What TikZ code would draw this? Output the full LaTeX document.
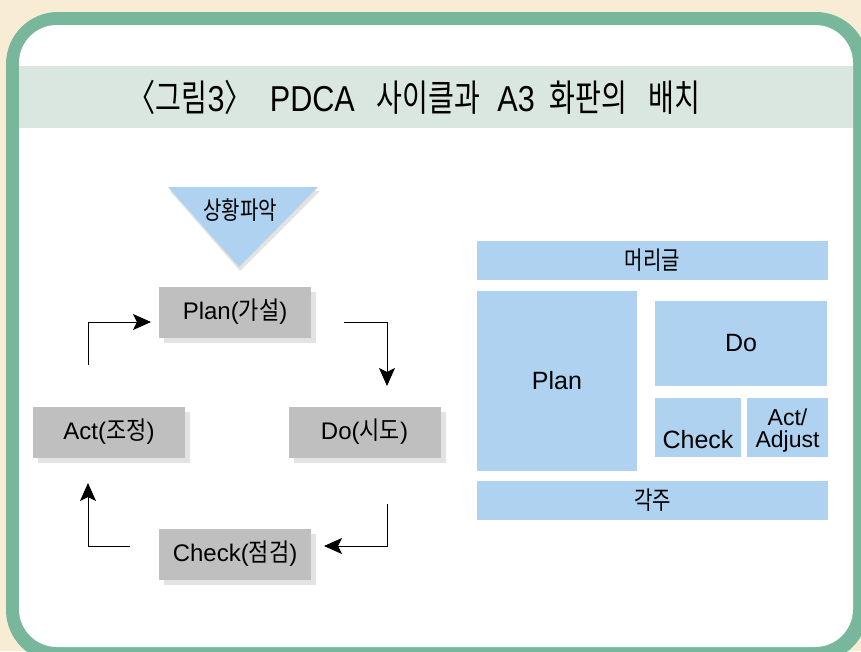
\documentclass[tikz,border=0pt]{standalone}
\usepackage{fontspec}
\setmainfont{Liberation Sans}
\newfontfamily\korfont[FakeStretch=0.88]{Noto Sans CJK KR}
\newfontfamily\korsmall[FakeStretch=0.8]{Noto Sans CJK KR}
\newfontfamily\titlekor[FakeStretch=0.76]{Noto Sans CJK KR}
\newfontfamily\titlelat[FakeStretch=0.85]{Liberation Sans}
\usetikzlibrary{arrows.meta,shadows}
\definecolor{bgbeige}{HTML}{F8ECD4}
\definecolor{framegreen}{HTML}{79B79D}
\definecolor{bandgreen}{HTML}{DAE7E0}
\definecolor{a3blue}{HTML}{AED2EF}
\definecolor{boxgray}{HTML}{BFBFBF}
\definecolor{shadowgray}{HTML}{E3E3E3}
\newcommand\Kb[1]{{\korfont\fontsize{25}{26}\selectfont #1}}
\newcommand\Ks[1]{{\korsmall\fontsize{25}{26}\selectfont #1}}
\newcommand\TK[1]{{\titlekor\fontsize{37}{38}\selectfont #1}}
\newcommand\TL[1]{{\titlelat\fontsize{36}{38}\selectfont #1}}
\begin{document}
\begin{tikzpicture}[x=1pt,y=-1pt,
  graybox/.style={fill=boxgray, inner sep=0pt, minimum width=152pt, minimum height=51pt,
    font=\fontsize{24}{26}\selectfont,
    general shadow={fill=shadowgray, shadow xshift=5pt, shadow yshift=-5pt}},
  a3box/.style={fill=a3blue, inner sep=0pt, font=\fontsize{25}{27}\selectfont},
  arr/.style={-{Stealth[length=18pt,width=16pt,inset=4pt]}, line width=1pt, black}]
\useasboundingbox (0,0) rectangle (861,651);
\fill[bgbeige] (0,0) rectangle (861,651);
\fill[framegreen, rounded corners=52pt] (6,12) rectangle (868,662);
\fill[white, rounded corners=38pt] (19,25) rectangle (853,647);
\fill[bandgreen] (19,66) rectangle (853,128);
\node[inner sep=0pt] (title) at (414,97.5) {\TK{〈그림}\TL{3}\TK{〉}\hspace{17pt}\TL{PDCA}\hspace{22pt}\TK{사이클과}\hspace{17pt}\TL{A3}\hspace{15pt}\TK{화판의}\hspace{21pt}\TK{배치}};
% situation triangle
\fill[shadowgray] (170,191) -- (320,191) -- (240,271) -- cycle;
\fill[a3blue] (168,187) -- (318,187) -- (239,267) -- cycle;
\node (sit) at (240,210) {\Ks{상황파악}};
% PDCA cycle boxes
\node[graybox] (plan) at (235,312) {Plan(\Kb{가설})};
\node[graybox] (act) at (109,432) {Act(\Kb{조정})};
\node[graybox] (do) at (364.5,432) {Do(\Kb{시도})};
\node[graybox] (check) at (235,554) {Check(\Kb{점검})};
% arrows
\coordinate (a1s) at (88,365);
\coordinate (a1t) at (151,322);
\coordinate (a2s) at (344,322);
\coordinate (a2t) at (387,386);
\coordinate (a3s) at (387,504);
\coordinate (a3t) at (324,546);
\coordinate (a4s) at (130,546);
\coordinate (a4t) at (88,483);
\draw[arr] (a1s) |- (a1t);
\draw[arr] (a2s) -| (a2t);
\draw[arr] (a3s) |- (a3t);
\draw[arr] (a4s) -| (a4t);
% A3 layout
\node[a3box, minimum width=351pt, minimum height=39pt] (head) at (652.5,260.5) {\Ks{머리글}};
\node[a3box, minimum width=160pt, minimum height=180pt] (aplan) at (557,381) {Plan};
\node[a3box, minimum width=172pt, minimum height=85pt] (ado) at (741,343.5) {Do};
\node[a3box, minimum width=86pt, minimum height=59pt] (acheck) at (698,427.5) {};
\node[font=\fontsize{25}{27}\selectfont, inner sep=0pt] (acheckt) at (698,440) {Check};
\node[a3box, minimum width=81pt, minimum height=59pt] (aact) at (787.5,427.5) {};
\node[font=\fontsize{23}{22}\selectfont, inner sep=0pt] (aact1) at (787.5,417) {Act/};
\node[font=\fontsize{23}{22}\selectfont, inner sep=0pt] (aact2) at (787.5,441.5) {Adjust};
\node[a3box, minimum width=351pt, minimum height=39pt] (foot) at (652.5,500.5) {\Ks{각주}};
\end{tikzpicture}
\end{document}
